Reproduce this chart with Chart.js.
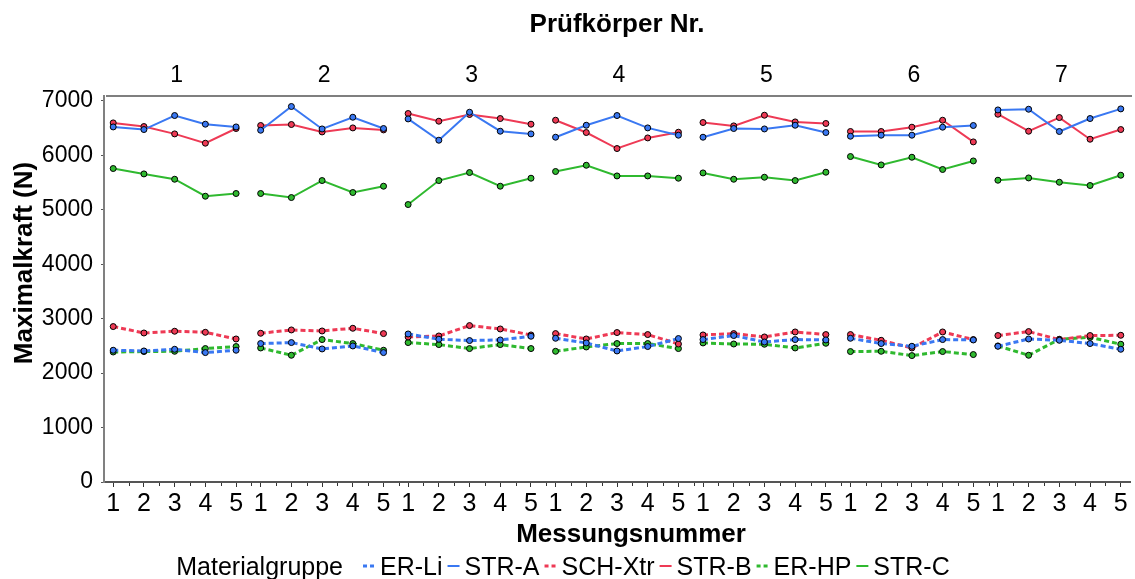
<!DOCTYPE html>
<html>
<head>
<meta charset="utf-8">
<script src="https://cdn.jsdelivr.net/npm/chart.js@4.4.1/dist/chart.umd.min.js"></script>
<style>
  html, body { margin: 0; padding: 0; background: #fff; }
  #wrap { width: 1135px; height: 579px; }
</style>
</head>
<body>
<div id="wrap"><canvas id="chart" width="1135" height="579"></canvas></div>
<script>
// Prüfkörper 1..7, each measured five times
const specimens = ['1', '2', '3', '4', '5', '6', '7'];
const measurements = [1, 2, 3, 4, 5];
const yTicks = [0, 1000, 2000, 3000, 4000, 5000, 6000, 7000];

// Maximalkraft in N, specimen by specimen
const erLi = [
  2420, 2407, 2438, 2377, 2420,
  2543, 2561, 2444, 2499, 2377,
  2719, 2622, 2598, 2609, 2677,
  2640, 2554, 2407, 2488, 2635,
  2616, 2690, 2572, 2616, 2609,
  2640, 2543, 2493, 2616, 2609,
  2493, 2627, 2603, 2543, 2438
];
const strA = [
  6522, 6474, 6731, 6572, 6522,
  6461, 6897, 6485, 6700, 6493,
  6669, 6278, 6792, 6443, 6394,
  6333, 6553, 6731, 6504, 6370,
  6333, 6493, 6485, 6553, 6419,
  6351, 6370, 6370, 6517, 6548,
  6834, 6847, 6438, 6676, 6853
];
const schXtr = [
  2855, 2737, 2769, 2750, 2627,
  2732, 2793, 2774, 2824, 2726,
  2664, 2682, 2873, 2811, 2701,
  2726, 2627, 2745, 2708, 2535,
  2701, 2726, 2664, 2756, 2708,
  2708, 2603, 2462, 2756, 2616,
  2690, 2763, 2616, 2690, 2695
];
const strB = [
  6596, 6529, 6394, 6223, 6493,
  6548, 6566, 6430, 6504, 6467,
  6768, 6627, 6750, 6676, 6572,
  6645, 6419, 6125, 6320, 6425,
  6603, 6541, 6737, 6614, 6585,
  6438, 6438, 6517, 6645, 6247,
  6755, 6443, 6694, 6296, 6474
];
const erHp = [
  2388, 2396, 2401, 2451, 2488,
  2462, 2328, 2616, 2543, 2420,
  2561, 2524, 2451, 2524, 2451,
  2401, 2480, 2543, 2543, 2451,
  2554, 2535, 2530, 2462, 2548,
  2396, 2401, 2322, 2396, 2341,
  2499, 2328, 2622, 2658, 2530
];
const strC = [
  5758, 5659, 5561, 5249, 5299,
  5299, 5225, 5537, 5317, 5433,
  5096, 5537, 5684, 5433, 5580,
  5703, 5818, 5622, 5622, 5580,
  5677, 5561, 5598, 5537, 5690,
  5978, 5824, 5965, 5740, 5897,
  5543, 5585, 5506, 5446, 5635
];

const BLUE = '#3a78f2';
const RED = '#ee3a55';
const GREEN = '#2fb92f';
const PANEL = 4.8; // width of one specimen block on the x scale
const FONT = 'Arial, "Liberation Sans", sans-serif';

const series = [
  { label: 'ER-Li', values: erLi, color: BLUE, dashed: true },
  { label: 'STR-A', values: strA, color: BLUE, dashed: false },
  { label: 'SCH-Xtr', values: schXtr, color: RED, dashed: true },
  { label: 'STR-B', values: strB, color: RED, dashed: false },
  { label: 'ER-HP', values: erHp, color: GREEN, dashed: true },
  { label: 'STR-C', values: strC, color: GREEN, dashed: false }
];

const xPos = (p, m) => p * PANEL + (m - 1);

// one line per specimen block, broken with a null between blocks
function toPoints(values) {
  const pts = [];
  specimens.forEach((s, p) => {
    measurements.forEach((m, i) => {
      pts.push({ x: xPos(p, m), y: values[p * measurements.length + i] });
    });
    pts.push({ x: xPos(p, 5) + 0.4, y: null });
  });
  return pts;
}

const datasets = series.map(s => ({
  label: s.label,
  data: toPoints(s.values),
  borderColor: s.color,
  backgroundColor: s.color,
  borderWidth: s.dashed ? 3 : 2,
  borderDash: s.dashed ? [5, 3] : [],
  pointRadius: 3,
  pointBorderWidth: 1,
  pointBorderColor: '#000',
  pointBackgroundColor: s.color,
  spanGaps: false,
  tension: 0
}));

const majorTicks = [];
specimens.forEach((s, p) => measurements.forEach(m => majorTicks.push({ value: xPos(p, m), label: String(m) })));

const decor = {
  id: 'decor',
  afterDraw(chart) {
    const { ctx, chartArea: a, scales: { x } } = chart;
    ctx.save();

    // frame line on top of the panels
    ctx.strokeStyle = '#7f7f7f';
    ctx.lineWidth = 2;
    ctx.beginPath();
    ctx.moveTo(a.left + 2, a.top);
    ctx.lineTo(a.right + 2, a.top);
    ctx.stroke();

    // minor ticks halfway between measurements
    ctx.strokeStyle = '#333';
    ctx.lineWidth = 1;
    specimens.forEach((s, p) => measurements.forEach(m => {
      const px = Math.round(x.getPixelForValue(xPos(p, m) + 0.5)) + 0.5;
      ctx.beginPath();
      ctx.moveTo(px, a.bottom + 1);
      ctx.lineTo(px, a.bottom + 4);
      ctx.stroke();
    }));

    ctx.fillStyle = '#000';
    ctx.textAlign = 'center';
    ctx.textBaseline = 'alphabetic';

    // specimen headers
    ctx.font = '23px ' + FONT;
    specimens.forEach((s, p) => {
      ctx.fillText(s, x.getPixelForValue(xPos(p, 3)) + 2, 82);
    });

    ctx.font = 'bold 26px ' + FONT;
    ctx.fillText('Prüfkörper Nr.', (a.left + a.right) / 2, 32);
    ctx.fillText('Messungsnummer', (a.left + a.right) / 2 + 14, 542);

    ctx.save();
    ctx.translate(32, (a.top + a.bottom) / 2 - 26);
    ctx.rotate(-Math.PI / 2);
    ctx.fillText('Maximalkraft (N)', 0, 0);
    ctx.restore();

    // legend row
    ctx.font = '25px ' + FONT;
    ctx.textAlign = 'left';
    const head = 'Materialgruppe';
    const sample = 12, gap = 5, headGap = 20;
    let total = ctx.measureText(head).width + headGap;
    series.forEach(s => { total += sample + gap + ctx.measureText(s.label).width + gap; });
    let cx = (chart.width - total) / 2 - 2;
    const ly = 575;
    ctx.fillText(head, cx, ly);
    cx += ctx.measureText(head).width + headGap;
    series.forEach(s => {
      ctx.strokeStyle = s.color;
      ctx.lineWidth = s.dashed ? 3 : 2;
      ctx.setLineDash(s.dashed ? [4, 3] : []);
      ctx.beginPath();
      ctx.moveTo(cx, ly - 9);
      ctx.lineTo(cx + sample, ly - 9);
      ctx.stroke();
      ctx.setLineDash([]);
      cx += sample + gap;
      ctx.fillText(s.label, cx, ly);
      cx += ctx.measureText(s.label).width + gap;
    });

    ctx.restore();
  }
};

new Chart(document.getElementById('chart'), {
  type: 'line',
  data: { datasets },
  options: {
    responsive: false,
    animation: false,
    devicePixelRatio: 1,
    layout: { padding: { top: 96, right: 1, left: 0, bottom: 0 } },
    scales: {
      x: {
        type: 'linear',
        min: -0.3,
        max: xPos(6, 5) + 0.3,
        afterBuildTicks: s => { s.ticks = majorTicks.map(t => ({ value: t.value })); },
        afterFit: s => { s.height = 579 - 96 - 386; },
        ticks: {
          autoSkip: false,
          maxRotation: 0,
          color: '#000',
          font: { family: FONT, size: 25 },
          padding: 2,
          callback: (v, i) => majorTicks[i] ? majorTicks[i].label : ''
        },
        grid: { drawOnChartArea: false, drawTicks: true, tickLength: 5, color: '#333' },
        border: { color: '#555', width: 2 }
      },
      y: {
        min: 0,
        max: 7090,
        afterBuildTicks: s => { s.ticks = yTicks.map(v => ({ value: v })); },
        afterFit: s => { s.width = 104; },
        ticks: {
          color: '#000',
          font: { family: FONT, size: 23 },
          padding: 8,
          callback: v => String(v)
        },
        grid: { drawOnChartArea: false, drawTicks: true, tickLength: 3, color: '#555' },
        border: { color: '#808080', width: 2 }
      }
    },
    plugins: {
      legend: { display: false },
      tooltip: { enabled: false }
    }
  },
  plugins: [decor]
});
</script>
</body>
</html>
